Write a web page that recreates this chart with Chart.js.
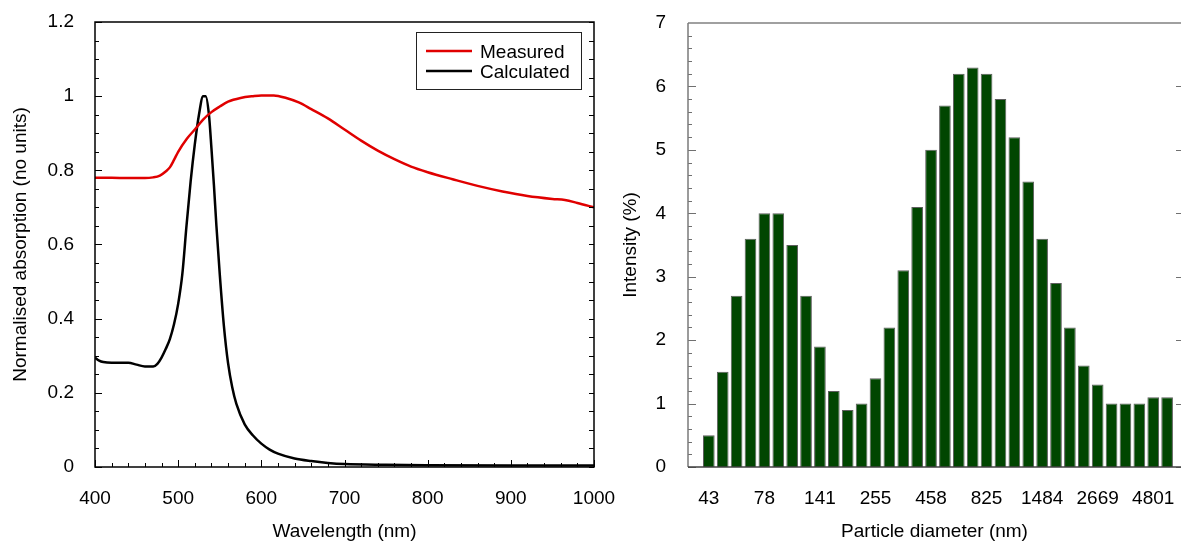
<!DOCTYPE html>
<html>
<head>
<meta charset="utf-8">
<script src="https://cdn.jsdelivr.net/npm/chart.js@4.4.1/dist/chart.umd.min.js"></script>
<style>
  body { margin: 0; background: #fff; }
  #wrap { position: relative; width: 1181px; height: 545px; overflow: hidden; }
  canvas { position: absolute; top: 0; }
  #absorption { left: 0; }
  #sizes { left: 600px; }
</style>
</head>
<body>
<div id="wrap">
  <canvas id="absorption" width="640" height="545"></canvas>
  <canvas id="sizes" width="581" height="545"></canvas>
</div>
<script>
// Absorption spectra (nm, normalised)
const wavelengthMeasured = [400, 420, 440, 460, 470, 478, 485, 490, 495, 500, 510, 520, 530, 540, 550,
  560, 575, 590, 600, 615, 630, 645, 660, 680, 700, 720, 740, 760, 780, 800, 830, 860, 890, 920, 950,
  965, 980, 1000];
const measured = [0.780, 0.780, 0.779, 0.779, 0.781, 0.786, 0.797, 0.808, 0.828, 0.850, 0.884, 0.910,
  0.937, 0.957, 0.972, 0.985, 0.995, 1.000, 1.002, 1.002, 0.995, 0.983, 0.965, 0.940, 0.910, 0.880,
  0.853, 0.830, 0.810, 0.795, 0.776, 0.758, 0.743, 0.731, 0.723, 0.720, 0.712, 0.700];

const wavelengthCalc = [400, 405, 410, 420, 440, 450, 460, 470, 475, 480, 485, 490, 495, 500, 505, 510,
  515, 520, 525, 530, 533, 537, 540, 543, 546, 550, 555, 560, 565, 570, 580, 590, 600, 610, 620, 640,
  660, 680, 700, 750, 800, 900, 1000];
const calculated = [0.295, 0.287, 0.283, 0.281, 0.281, 0.276, 0.271, 0.271, 0.278, 0.295, 0.318, 0.345,
  0.385, 0.44, 0.52, 0.65, 0.77, 0.87, 0.95, 1.0, 1.0, 0.95, 0.86, 0.76, 0.65, 0.52, 0.38, 0.28, 0.215,
  0.17, 0.115, 0.085, 0.063, 0.047, 0.036, 0.023, 0.016, 0.011, 0.008, 0.006, 0.005, 0.004, 0.004];

// Size distribution: 34 bins, every 4th one labelled
const intensity = [0.5, 1.5, 2.7, 3.6, 4.0, 4.0, 3.5, 2.7, 1.9, 1.2, 0.9, 1.0, 1.4, 2.2, 3.1, 4.1, 5.0,
  5.7, 6.2, 6.3, 6.2, 5.8, 5.2, 4.5, 3.6, 2.9, 2.2, 1.6, 1.3, 1.0, 1.0, 1.0, 1.1, 1.1];
const labelledBins = [0, 4, 8, 12, 16, 20, 24, 28, 32];
const diameterLabels = ["43", "78", "141", "255", "458", "825", "1484", "2669", "4801"];

Chart.defaults.font.family = "'Liberation Sans', Arial, sans-serif";
Chart.defaults.font.size = 19;
Chart.defaults.color = "#000";

const toPoints = (xs, ys) => xs.map((x, i) => ({ x: x, y: ys[i] }));
// plain numbers: "1" not "1.0", "1000" not "1,000"
const plainLabel = (value) => String(Math.round(value * 100) / 100);

// fixed axis sizes so the plot boxes land where they should
const fixWidth = (w) => (scale) => {
  scale.width = w;
  scale.paddingTop = scale.paddingBottom = scale.paddingLeft = scale.paddingRight = 0;
};
const fixHeight = (h) => (scale) => {
  scale.height = h;
  scale.paddingTop = scale.paddingBottom = scale.paddingLeft = scale.paddingRight = 0;
};

// box frame + inward ticks
const absorptionFrame = {
  id: "absorptionFrame",
  afterDraw(chart) {
    const { ctx, chartArea: a, scales: { x, y } } = chart;
    ctx.save();
    ctx.strokeStyle = "#000";
    ctx.lineWidth = 1;
    ctx.beginPath();
    for (let v = 400; v <= 1000; v += 20) {
      const px = Math.round(x.getPixelForValue(v)) + 0.5;
      const len = v % 100 === 0 ? 7 : 4;
      ctx.moveTo(px, a.bottom);
      ctx.lineTo(px, a.bottom - len);
    }
    for (let i = 0; i <= 24; i++) {
      const py = Math.round(y.getPixelForValue(i * 0.05)) + 0.5;
      ctx.moveTo(a.left, py);
      ctx.lineTo(a.left + (i % 4 === 0 ? 7 : 4), py);
      ctx.moveTo(a.right, py);
      ctx.lineTo(a.right - 5, py);
    }
    ctx.stroke();
    ctx.lineWidth = 1.5;
    ctx.strokeRect(a.left, a.top, a.right - a.left, a.bottom - a.top);
    ctx.restore();
  }
};

const absorptionLegend = {
  id: "absorptionLegend",
  afterDraw(chart) {
    const { ctx, chartArea: a } = chart;
    const left = a.right - 178, top = a.top + 10, w = 165, h = 57;
    ctx.save();
    ctx.fillStyle = "#fff";
    ctx.fillRect(left, top, w, h);
    ctx.strokeStyle = "#222";
    ctx.lineWidth = 1;
    ctx.strokeRect(left + 0.5, top + 0.5, w, h);
    ctx.font = "19px 'Liberation Sans', Arial, sans-serif";
    ctx.textBaseline = "middle";
    chart.data.datasets.forEach((ds, i) => {
      const yy = top + 19 + i * 20;
      ctx.strokeStyle = ds.borderColor;
      ctx.lineWidth = 2.5;
      ctx.beginPath();
      ctx.moveTo(left + 10, yy);
      ctx.lineTo(left + 56, yy);
      ctx.stroke();
      ctx.fillStyle = "#000";
      ctx.fillText(ds.label, left + 64, yy + 2);
    });
    ctx.restore();
  }
};

new Chart(document.getElementById("absorption"), {
  type: "line",
  data: {
    datasets: [
      {
        label: "Measured",
        data: toPoints(wavelengthMeasured, measured),
        borderColor: "#e00000",
        borderWidth: 2.5,
        pointRadius: 0,
        cubicInterpolationMode: "monotone",
      },
      {
        label: "Calculated",
        data: toPoints(wavelengthCalc, calculated),
        borderColor: "#000000",
        borderWidth: 2.5,
        pointRadius: 0,
        cubicInterpolationMode: "monotone",
      },
    ],
  },
  options: {
    responsive: false,
    animation: false,
    layout: { padding: { top: 22, right: 46, left: 0, bottom: 0 } },
    plugins: { legend: { display: false }, tooltip: { enabled: false } },
    scales: {
      x: {
        type: "linear",
        min: 400,
        max: 1000,
        ticks: { stepSize: 100, padding: 12, maxRotation: 0, callback: plainLabel },
        grid: { display: false },
        border: { display: false },
        title: { display: true, text: "Wavelength (nm)", padding: { top: 0, bottom: 2 } },
        afterFit: fixHeight(78),
      },
      y: {
        min: 0,
        max: 1.2,
        ticks: { stepSize: 0.2, padding: 13, callback: plainLabel },
        grid: { display: false },
        border: { display: false },
        title: { display: true, text: "Normalised absorption (no units)", padding: { top: 9, bottom: 0 } },
        afterFit: fixWidth(95),
      },
    },
  },
  plugins: [absorptionFrame, absorptionLegend],
});

// axis lines and ticks for the histogram
const sizesFrame = {
  id: "sizesFrame",
  afterDraw(chart) {
    const { ctx, chartArea: a, scales: { y } } = chart;
    ctx.save();
    ctx.lineWidth = 1;
    ctx.strokeStyle = "#707070";
    ctx.beginPath();
    for (let i = 0; i <= 35; i++) {
      const py = Math.round(y.getPixelForValue(i * 0.2)) + 0.5;
      ctx.moveTo(a.left, py);
      ctx.lineTo(a.left + (i % 5 === 0 ? 8 : 4), py);
      if (i % 5 === 0) {
        ctx.moveTo(a.right, py);
        ctx.lineTo(a.right - 5, py);
      }
    }
    ctx.stroke();
    ctx.lineWidth = 2;
    ctx.strokeStyle = "#a0a0a0";
    ctx.beginPath();
    ctx.moveTo(a.left, a.top);
    ctx.lineTo(a.right, a.top);
    ctx.stroke();
    ctx.lineWidth = 1.5;
    ctx.strokeStyle = "#7a7a7a";
    ctx.beginPath();
    ctx.moveTo(a.left, a.top);
    ctx.lineTo(a.left, a.bottom);
    ctx.stroke();
    ctx.strokeStyle = "#404040";
    ctx.beginPath();
    ctx.moveTo(a.left, a.bottom);
    ctx.lineTo(a.right, a.bottom);
    ctx.stroke();
    ctx.restore();
  }
};

new Chart(document.getElementById("sizes"), {
  type: "bar",
  data: {
    datasets: [
      {
        label: "Intensity",
        data: intensity.map((v, i) => ({ x: i, y: v })),
        backgroundColor: "#004600",
        borderColor: "#5e5e5e",
        borderWidth: 1,
        barPercentage: 0.84,
        categoryPercentage: 1,
      },
    ],
  },
  options: {
    responsive: false,
    animation: false,
    layout: { padding: { top: 23, right: 0, left: 0, bottom: 0 } },
    plugins: { legend: { display: false }, tooltip: { enabled: false } },
    scales: {
      x: {
        type: "linear",
        min: -1.5,
        max: 34,
        offset: false,
        afterBuildTicks: (scale) => {
          scale.ticks = labelledBins.map((v) => ({ value: v }));
        },
        ticks: {
          autoSkip: false,
          maxRotation: 0,
          padding: 12,
          callback: (value) => diameterLabels[labelledBins.indexOf(value)],
        },
        grid: { display: false },
        border: { display: false },
        title: { display: true, text: "Particle diameter (nm)", padding: { top: 0, bottom: 2 } },
        afterFit: fixHeight(78),
      },
      y: {
        min: 0,
        max: 7,
        ticks: { stepSize: 1, padding: 14 },
        grid: { display: false },
        border: { display: false },
        title: { display: true, text: "Intensity (%)", padding: { top: 19, bottom: 0 } },
        afterFit: fixWidth(88),
      },
    },
  },
  plugins: [sizesFrame],
});
</script>
</body>
</html>
